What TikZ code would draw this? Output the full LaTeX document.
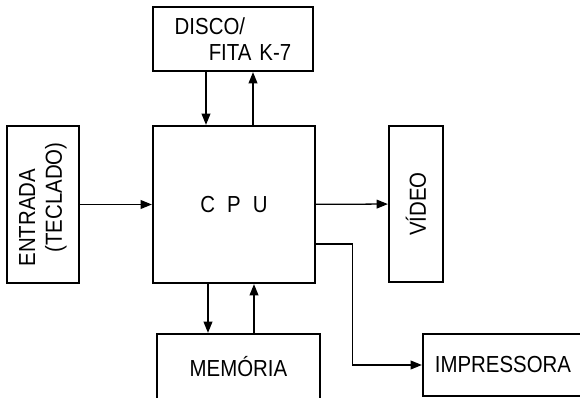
\documentclass[tikz,border=0pt]{standalone}
\usepackage{fontspec}
\setmainfont{Liberation Sans}[FakeStretch=0.88]
\usepackage{tikz}
\usetikzlibrary{arrows.meta}

\begin{document}
\begin{tikzpicture}[x=0.025cm, y=-0.025cm,
    blk/.style={draw, line width=1.6pt, inner sep=0pt, font=\fontsize{16.5}{19}\selectfont},
    flow/.style={line width=0.9pt, -{Triangle[length=2.8mm, width=2.2mm]}}
  ]
  \useasboundingbox (0,0) rectangle (580,398);

  % blocks
  \node[blk, minimum width=4cm, minimum height=1.6cm, align=left] (disco) at (233,39)
    {DISCO/\\\hspace*{0.85cm}FITA\hspace{0.2cm}K-7};
  \node[blk, minimum width=4.05cm, minimum height=3.925cm] (cpu) at (234,204.5)
    {C\hspace{0.3cm}P\hspace{0.3cm}U};
  \node[blk, rotate=90, minimum width=3.925cm, minimum height=1.8cm, align=left] (entrada) at (43,204.5)
    {ENTRADA\\\hspace*{0.35cm}(TECLADO)};
  \node[blk, rotate=90, minimum width=3.9cm, minimum height=1.35cm] (video) at (416,204) {VÍDEO};
  \node[blk, minimum width=4.075cm, minimum height=1.65cm] (memoria) at (238.5,367) {MEMÓRIA};
  \node[blk, minimum width=4cm, minimum height=1.55cm] (impressora) at (503,365) {IMPRESSORA};

  % connectors
  \draw[flow] ([xshift=-0.675cm]disco.south) -- ([xshift=-0.675cm]disco.south |- cpu.north);
  \draw[flow] ([xshift=0.5cm]disco.south |- cpu.north) -- ([xshift=0.5cm]disco.south);
  \draw[flow] (entrada) -- (cpu);
  \draw[flow] (cpu) -- (video);
  \draw[flow] ([xshift=-0.65cm]cpu.south) -- ([xshift=-0.65cm]cpu.south |- memoria.north);
  \draw[flow] ([xshift=0.5cm]cpu.south |- memoria.north) -- ([xshift=0.5cm]cpu.south);
  \draw[flow] ([yshift=-0.99cm]cpu.east) -- ++(0.9cm,0) |- (impressora.west);
\end{tikzpicture}
\end{document}
